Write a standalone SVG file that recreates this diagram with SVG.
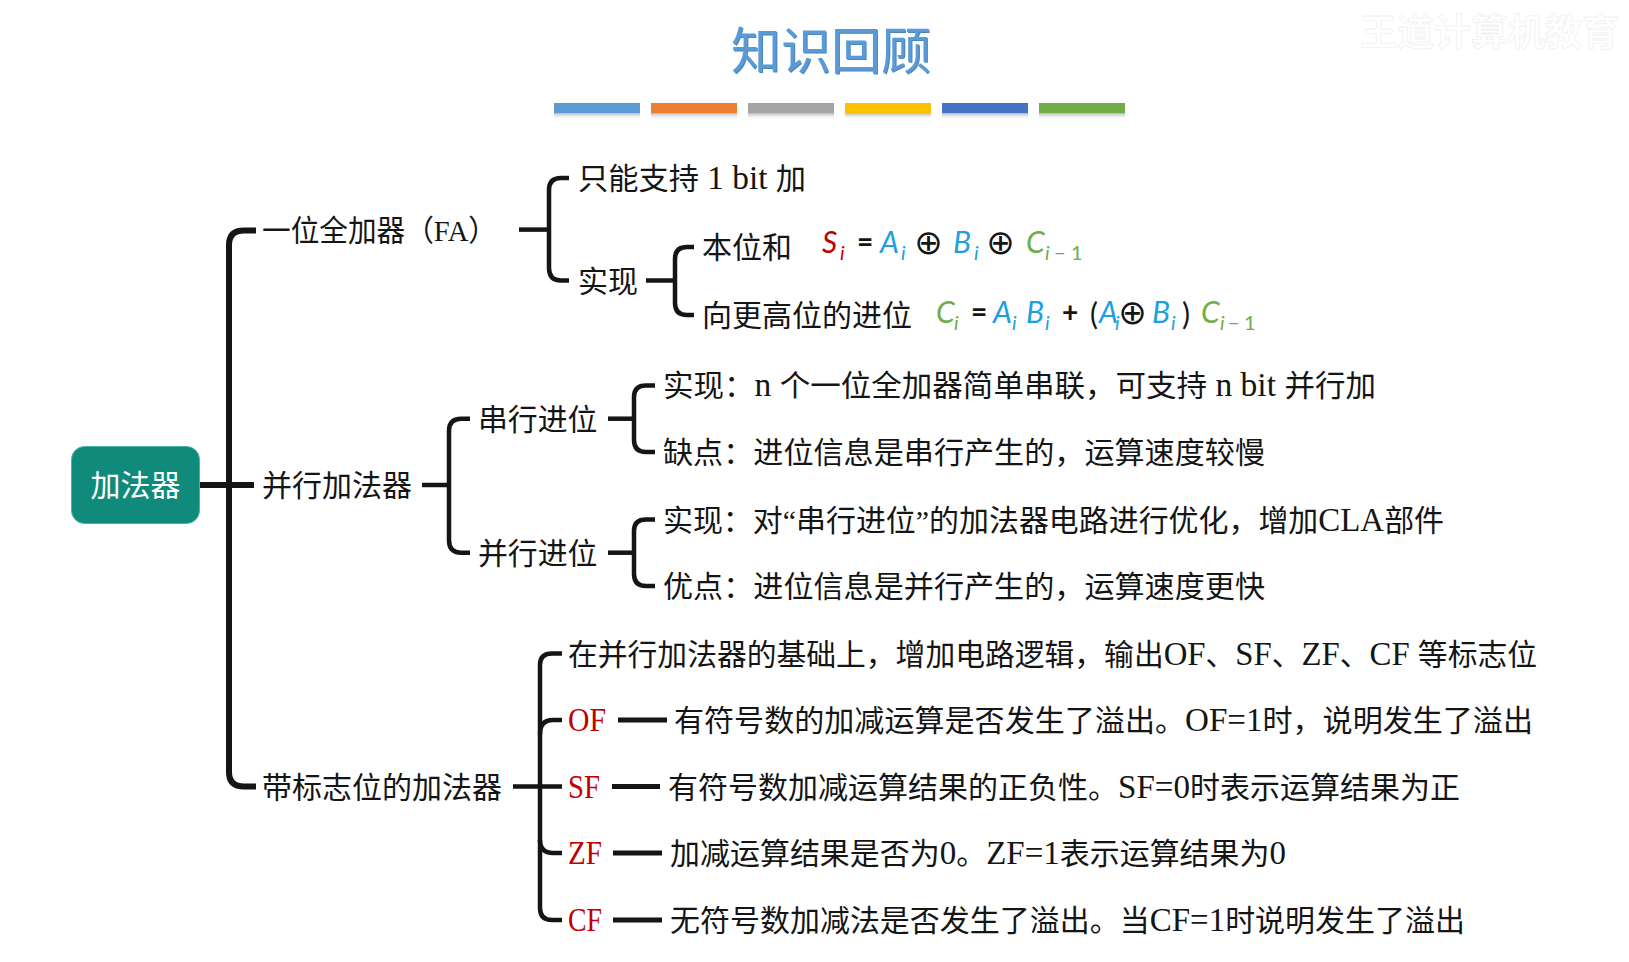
<svg xmlns="http://www.w3.org/2000/svg" width="1629" height="962" viewBox="0 0 1629 962">
<defs>
<style>
.t{font-family:"Liberation Serif","Noto Sans CJK SC",serif;font-size:30px;fill:#151515}
.L{font-size:33px}
.red{fill:#C00000}
.br{fill:none;stroke:#151515;stroke-width:4.5;stroke-linecap:butt}
.mn{stroke-width:6}
.dash{fill:none;stroke:#151515;stroke-width:5}
.f{font-family:Lato,"Liberation Sans",sans-serif;font-style:italic;font-size:30px}
.sub{font-size:20px}
.op{font-family:Lato,"Liberation Sans",sans-serif;font-style:normal;font-weight:bold;font-size:28px;fill:#151515}
.xor{font-family:"DejaVu Sans",sans-serif;font-style:normal;font-size:34px;fill:#151515}
.rd{fill:#C00000}.bl{fill:#1E9FE0}.gn{fill:#70AD47}
</style>
<linearGradient id="sh" x1="0" y1="0" x2="0" y2="1">
<stop offset="0" stop-color="#9a9a9a" stop-opacity="0.7"/>
<stop offset="1" stop-color="#ffffff" stop-opacity="0"/>
</linearGradient>
</defs>
<rect width="1629" height="962" fill="#ffffff"/>

<g id="watermark">
<text x="1360" y="46" font-family="Noto Sans CJK SC,sans-serif" font-size="37" font-weight="bold" fill="#ffffff" stroke="#f1f1f1" stroke-width="0.8">王道计算机教育</text>
</g>

<g id="title">
<text x="832" y="70" text-anchor="middle" font-family="Noto Sans CJK SC,sans-serif" font-size="50" fill="#4A86C0">知识回顾</text>
<text x="831" y="69" text-anchor="middle" font-family="Noto Sans CJK SC,sans-serif" font-size="50" fill="#5B9BD5">知识回顾</text>
</g>

<g id="color-bars">
<rect x="554" y="113" width="86" height="7" fill="url(#sh)"/>
<rect x="651" y="113" width="86" height="7" fill="url(#sh)"/>
<rect x="748" y="113" width="86" height="7" fill="url(#sh)"/>
<rect x="845" y="113" width="86" height="7" fill="url(#sh)"/>
<rect x="942" y="113" width="86" height="7" fill="url(#sh)"/>
<rect x="1039" y="113" width="86" height="7" fill="url(#sh)"/>
<rect x="554" y="103" width="86" height="10" fill="#5B9BD5"/>
<rect x="651" y="103" width="86" height="10" fill="#ED7D31"/>
<rect x="748" y="103" width="86" height="10" fill="#A5A5A5"/>
<rect x="845" y="103" width="86" height="10" fill="#FFC000"/>
<rect x="942" y="103" width="86" height="10" fill="#4472C4"/>
<rect x="1039" y="103" width="86" height="10" fill="#70AD47"/>
</g>

<g id="connectors">
<path class="br mn" d="M256 230.6H244Q229 230.6 229 245V772Q229 786.5 244 786.5H256"/>
<path class="br mn" d="M199 485H254"/>
<path class="br" d="M519 229.6H549"/>
<path class="br" d="M569 178H561Q549 178 549 190V268Q549 280.5 561 280.5H569"/>
<path class="br" d="M646 280.5H675"/>
<path class="br" d="M694 247H687Q675 247 675 259V303Q675 315 687 315H694"/>
<path class="br" d="M422 485H449"/>
<path class="br" d="M470 418.7H461Q449 418.7 449 431V540Q449 552.7 461 552.7H470"/>
<path class="br" d="M608 418.7H634"/>
<path class="br" d="M655 385.4H646Q634 385.4 634 397V440Q634 452 646 452H655"/>
<path class="br" d="M608 552.7H634"/>
<path class="br" d="M655 519.5H646Q634 519.5 634 531V574Q634 586 646 586H655"/>
<path class="br" d="M513 786.5H562"/>
<path class="br" d="M562 653.5H552Q540 653.5 540 665V908Q540 920 552 920H562"/>
<path class="br" d="M540 734Q540 720 553 720H562"/>
<path class="br" d="M540 840Q540 853 553 853H562"/>
<path class="dash" d="M618 720H667"/>
<path class="dash" d="M612 786.5H660"/>
<path class="dash" d="M613 853H662"/>
<path class="dash" d="M613 920H662"/>
</g>

<g id="root">
<rect x="71.5" y="446.5" width="128" height="77" rx="13" fill="#0F8A7B" stroke="#4fb3a4" stroke-width="1"/>
<text x="135.5" y="496" text-anchor="middle" font-family="Noto Sans CJK SC,sans-serif" font-size="30" fill="#ffffff">加法器</text>
</g>

<g id="n-fa"><text class="t" x="262" y="240.6" textLength="235" lengthAdjust="spacingAndGlyphs">一位全加器（FA）</text></g>
<g id="n-fa-1bit"><text class="t" x="578" y="188.7" textLength="228" lengthAdjust="spacingAndGlyphs">只能支持<tspan class="L"> 1 bit </tspan>加</text></g>
<g id="n-fa-impl"><text class="t" x="578" y="291.5">实现</text></g>
<g id="n-sum">
<text class="t" x="702" y="258">本位和</text>
<text class="f">
<tspan class="rd" x="822" y="253">S</tspan><tspan class="rd sub" x="840" y="260">i</tspan>
<tspan class="op" x="857" y="252">=</tspan>
<tspan class="bl" x="880" y="253">A</tspan><tspan class="bl sub" x="901" y="260">i</tspan>
<tspan class="xor" x="932" y="254" text-anchor="middle">⊕</tspan>
<tspan class="bl" x="953" y="253">B</tspan><tspan class="bl sub" x="974" y="260">i</tspan>
<tspan class="xor" x="1004" y="254" text-anchor="middle">⊕</tspan>
<tspan class="gn" x="1026" y="253">C</tspan><tspan class="gn sub" x="1045" y="260">i</tspan><tspan class="gn sub" font-style="normal" x="1054" y="260">−</tspan><tspan class="gn sub" font-style="normal" x="1071" y="260">1</tspan>
</text>
</g>
<g id="n-carry">
<text class="t" x="702" y="326" textLength="210" lengthAdjust="spacingAndGlyphs">向更高位的进位</text>
<text class="f">
<tspan class="gn" x="936" y="323">C</tspan><tspan class="gn sub" x="954" y="330">i</tspan>
<tspan class="op" x="971" y="322">=</tspan>
<tspan class="bl" x="993" y="323">A</tspan><tspan class="bl sub" x="1012" y="330">i</tspan>
<tspan class="bl" x="1026" y="323">B</tspan><tspan class="bl sub" x="1045" y="330">i</tspan>
<tspan class="op" x="1062" y="322">+</tspan>
<tspan font-style="normal" fill="#151515" x="1090" y="325">(</tspan>
<tspan class="bl" x="1099" y="323">A</tspan><tspan class="bl sub" x="1115" y="330">i</tspan>
<tspan class="xor" x="1136" y="324" text-anchor="middle">⊕</tspan>
<tspan class="bl" x="1152" y="323">B</tspan><tspan class="bl sub" x="1171" y="330">i</tspan>
<tspan font-style="normal" fill="#151515" x="1182" y="325">)</tspan>
<tspan class="gn" x="1201" y="323">C</tspan><tspan class="gn sub" x="1220" y="330">i</tspan><tspan class="gn sub" font-style="normal" x="1228" y="330">−</tspan><tspan class="gn sub" font-style="normal" x="1244" y="330">1</tspan>
</text>
</g>

<g id="n-parallel"><text class="t" x="262" y="496" textLength="150" lengthAdjust="spacingAndGlyphs">并行加法器</text></g>
<g id="n-serial-carry"><text class="t" x="478" y="429.7" textLength="119.5" lengthAdjust="spacingAndGlyphs">串行进位</text></g>
<g id="n-serial-impl"><text class="t" x="663" y="396.4" textLength="713" lengthAdjust="spacingAndGlyphs">实现：<tspan class="L">n </tspan>个一位全加器简单串联，可支持<tspan class="L"> n bit </tspan>并行加</text></g>
<g id="n-serial-con"><text class="t" x="663" y="463" textLength="602" lengthAdjust="spacingAndGlyphs">缺点：进位信息是串行产生的，运算速度较慢</text></g>
<g id="n-parallel-carry"><text class="t" x="478" y="563.7" textLength="119.5" lengthAdjust="spacingAndGlyphs">并行进位</text></g>
<g id="n-parallel-impl"><text class="t" x="663" y="530.5" textLength="781" lengthAdjust="spacingAndGlyphs">实现：对“串行进位”的加法器电路进行优化，增加<tspan class="L">CLA</tspan>部件</text></g>
<g id="n-parallel-pro"><text class="t" x="663" y="597" textLength="602" lengthAdjust="spacingAndGlyphs">优点：进位信息是并行产生的，运算速度更快</text></g>

<g id="n-flags"><text class="t" x="262" y="797.5" textLength="240" lengthAdjust="spacingAndGlyphs">带标志位的加法器</text></g>
<g id="n-flags-base"><text class="t" x="568" y="664.5" textLength="969" lengthAdjust="spacingAndGlyphs">在并行加法器的基础上，增加电路逻辑，输出<tspan class="L">OF</tspan>、<tspan class="L">SF</tspan>、<tspan class="L">ZF</tspan>、<tspan class="L">CF </tspan>等标志位</text></g>
<g id="n-of">
<text class="t red L" x="568" y="731" textLength="38" lengthAdjust="spacingAndGlyphs">OF</text>
<text class="t" x="674" y="731" textLength="859" lengthAdjust="spacingAndGlyphs">有符号数的加减运算是否发生了溢出。<tspan class="L">OF=1</tspan>时，说明发生了溢出</text>
</g>
<g id="n-sf">
<text class="t red L" x="568" y="797.5" textLength="32" lengthAdjust="spacingAndGlyphs">SF</text>
<text class="t" x="668" y="797.5" textLength="792" lengthAdjust="spacingAndGlyphs">有符号数加减运算结果的正负性。<tspan class="L">SF=0</tspan>时表示运算结果为正</text>
</g>
<g id="n-zf">
<text class="t red L" x="568" y="864" textLength="34" lengthAdjust="spacingAndGlyphs">ZF</text>
<text class="t" x="670" y="864" textLength="616" lengthAdjust="spacingAndGlyphs">加减运算结果是否为<tspan class="L">0</tspan>。<tspan class="L">ZF=1</tspan>表示运算结果为<tspan class="L">0</tspan></text>
</g>
<g id="n-cf">
<text class="t red L" x="568" y="931" textLength="34" lengthAdjust="spacingAndGlyphs">CF</text>
<text class="t" x="670" y="931" textLength="795" lengthAdjust="spacingAndGlyphs">无符号数加减法是否发生了溢出。当<tspan class="L">CF=1</tspan>时说明发生了溢出</text>
</g>
</svg>
